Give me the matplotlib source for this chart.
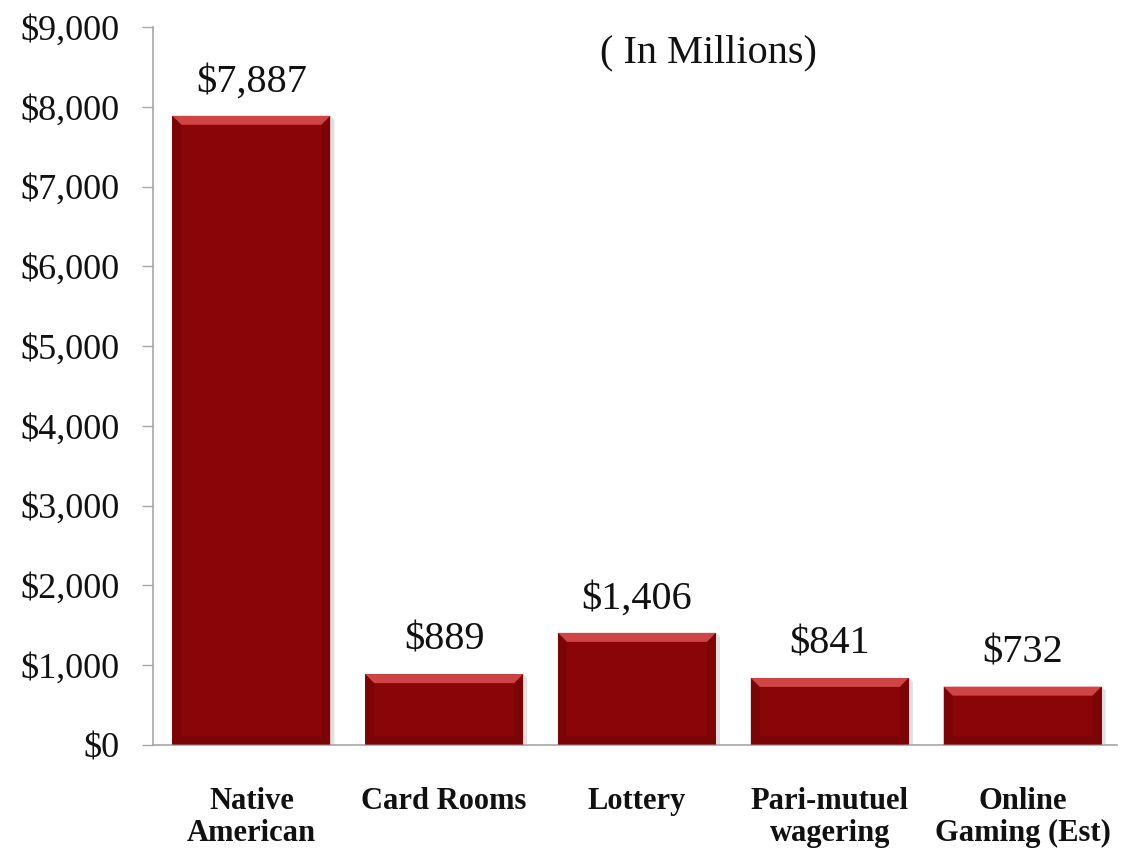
import matplotlib

matplotlib.use("Agg")
import matplotlib.pyplot as plt
from matplotlib.patches import Polygon

categories = ["Native\nAmerican", "Card Rooms", "Lottery", "Pari-mutuel\nwagering", "Online\nGaming (Est)"]
revenue = [7887, 889, 1406, 841, 732]
value_labels = ["$7,887", "$889", "$1,406", "$841", "$732"]
y_ticks = [0, 1000, 2000, 3000, 4000, 5000, 6000, 7000, 8000, 9000]

BAR = "#8a0508"
BEVEL_TOP = "#cf4444"
BEVEL_SIDE = "#6e0406"
AXIS = "#a6a6a6"
SERIF = ["Liberation Serif", "DejaVu Serif"]

fig = plt.figure(figsize=(11.36, 8.5), dpi=100)
ax = fig.add_axes([0.1347, 0.1235, 0.8486, 0.8447])

x = range(len(categories))
bars = ax.bar(x, revenue, width=0.82, color=BAR, zorder=2)

ax.set_xlim(-0.51, 4.49)
ax.set_ylim(0, 9000)

# bevel: convert a few pixels into data units so the edge looks the same on every bar
bbox = ax.get_window_extent()
dx = (ax.get_xlim()[1] - ax.get_xlim()[0]) / bbox.width
dy = (ax.get_ylim()[1] - ax.get_ylim()[0]) / bbox.height
b = 9  # bevel size in px
for r in bars:
    x0, w, h = r.get_x(), r.get_width(), r.get_height()
    x1 = x0 + w
    top = [(x0, h), (x1, h), (x1 - b * dx, h - b * dy), (x0 + b * dx, h - b * dy)]
    ax.add_patch(Polygon(top, closed=True, color=BEVEL_TOP, lw=0, zorder=3))
    left = [(x0, 0), (x0, h), (x0 + b * dx, h - b * dy), (x0 + b * dx, b * dy)]
    right = [(x1, 0), (x1, h), (x1 - b * dx, h - b * dy), (x1 - b * dx, b * dy)]
    bottom = [(x0, 0), (x1, 0), (x1 - b * dx, b * dy), (x0 + b * dx, b * dy)]
    for poly in (left, right, bottom):
        ax.add_patch(Polygon(poly, closed=True, color=BEVEL_SIDE, lw=0, alpha=0.5, zorder=3))
    # soft shadow to the right
    ax.add_patch(Polygon([(x1, 0), (x1 + 4 * dx, 0), (x1 + 4 * dx, h - 4 * dy), (x1, h)],
                         closed=True, color="#000000", alpha=0.12, lw=0, zorder=1))

for r, lab in zip(bars, value_labels):
    ax.text(r.get_x() + r.get_width() / 2, r.get_height() + 190, lab,
            ha="center", va="bottom", fontsize=29, family=SERIF, color="#111111")

ax.set_yticks(y_ticks)
ax.set_yticklabels([f"${v:,}" for v in y_ticks], family=SERIF, fontsize=26, color="#111111")
ax.set_xticks(list(x))
ax.set_xticklabels(categories, family=SERIF, fontsize=22, fontweight="bold",
                   color="#111111", linespacing=1.15)
ax.tick_params(axis="y", length=8, width=1, color=AXIS, pad=16)
ax.tick_params(axis="x", length=0, pad=30)
for t in ax.get_yticklabels():
    t.set_verticalalignment("center_baseline")

for s in ("top", "right"):
    ax.spines[s].set_visible(False)
for s in ("left", "bottom"):
    ax.spines[s].set_color(AXIS)
    ax.spines[s].set_linewidth(1.2)

fig.text(0.624, 0.938, "( In Millions)", ha="center", va="center", fontsize=29,
         family=SERIF, color="#111111")

fig.savefig("out.png", dpi=100, facecolor="white")
